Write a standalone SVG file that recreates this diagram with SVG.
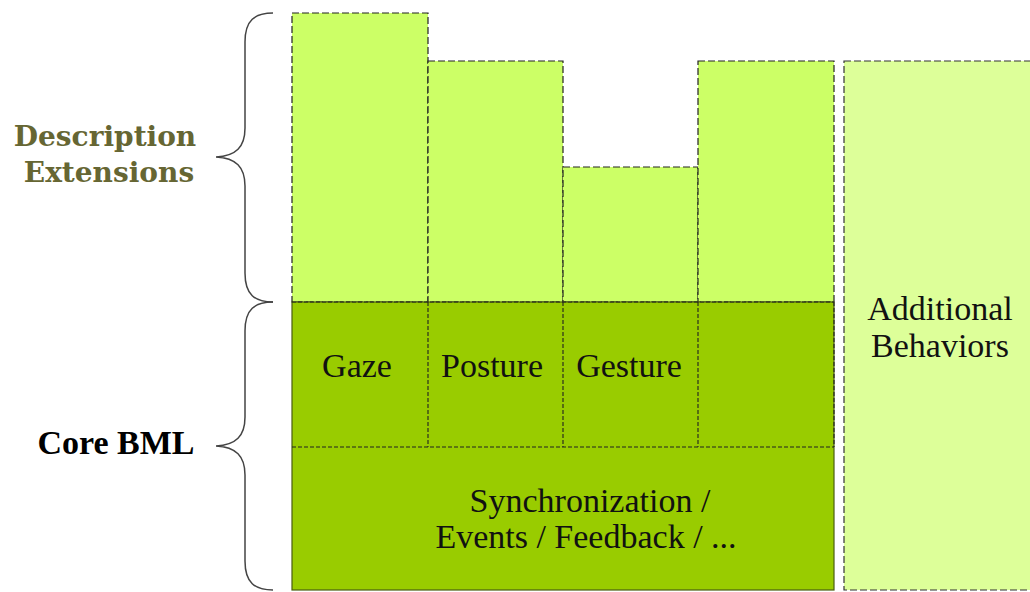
<svg xmlns="http://www.w3.org/2000/svg" width="1030" height="592" viewBox="0 0 1030 592">
<style>
.ext{fill:#ccff66;stroke:#222;stroke-width:1.2;stroke-dasharray:7 3}
.div{fill:none;stroke:#222;stroke-width:1.1;stroke-dasharray:4 2}
.brace{fill:none;stroke:#444;stroke-width:1.5}
.lbl{font-family:"Liberation Serif",serif;font-size:34px;fill:#111;text-anchor:middle}
.side{font-family:"DejaVu Serif","Liberation Serif",serif;font-weight:bold;font-size:28px;fill:#666633;text-anchor:middle}
</style>
<rect width="1030" height="592" fill="#fff"/>
<g id="ext-gaze"><rect class="ext" x="292" y="13" width="136" height="289"/></g>
<g id="ext-posture"><rect class="ext" x="428" y="61" width="135" height="241"/></g>
<g id="ext-gesture"><rect class="ext" x="563" y="167" width="135" height="135"/></g>
<g id="ext-other"><rect class="ext" x="698" y="61" width="136" height="241"/></g>
<g id="core">
<rect x="292" y="302" width="542" height="288" fill="#99cc00" stroke="#4a5e10" stroke-width="1.2"/>
<line class="div" x1="292" y1="302" x2="834" y2="302"/>
<line class="div" x1="292" y1="447" x2="834" y2="447"/>
<line class="div" x1="428" y1="302" x2="428" y2="447"/>
<line class="div" x1="563" y1="302" x2="563" y2="447"/>
<line class="div" x1="698" y1="302" x2="698" y2="447"/>
<line class="div" x1="834" y1="302" x2="834" y2="447"/>
</g>
<g id="gaze"><text class="lbl" x="357" y="377">Gaze</text></g>
<g id="posture"><text class="lbl" x="492" y="377">Posture</text></g>
<g id="gesture"><text class="lbl" x="629" y="377">Gesture</text></g>
<g id="sync"><text class="lbl" x="590" y="512">Synchronization /</text><text class="lbl" x="586" y="548">Events / Feedback / ...</text></g>
<g id="additional">
<rect x="844" y="61" width="192" height="529" fill="#ddff99" stroke="#333" stroke-width="1.2" stroke-dasharray="7 3"/>
<text class="lbl" x="940" y="320">Additional</text>
<text class="lbl" x="940" y="357">Behaviors</text>
</g>
<g id="connectors">
<path class="brace" d="M273,13 C255,13 245,20 245,42 L245,128 C245,147 236,156 216,157 C236,158 245,167 245,186 L245,273 C245,295 255,302 273,302"/>
<path class="brace" d="M273,302 C255,302 245,309 245,331 L245,417 C245,436 236,445 216,446 C236,447 245,456 245,475 L245,561 C245,583 255,590 273,590"/>
</g>
<g id="desc-label"><text class="side" x="105" y="146">Description</text><text class="side" x="109" y="182">Extensions</text></g>
<g id="core-label"><text x="116" y="454" font-family="Liberation Serif,serif" font-weight="bold" font-size="34" fill="#000" text-anchor="middle">Core BML</text></g>
</svg>
